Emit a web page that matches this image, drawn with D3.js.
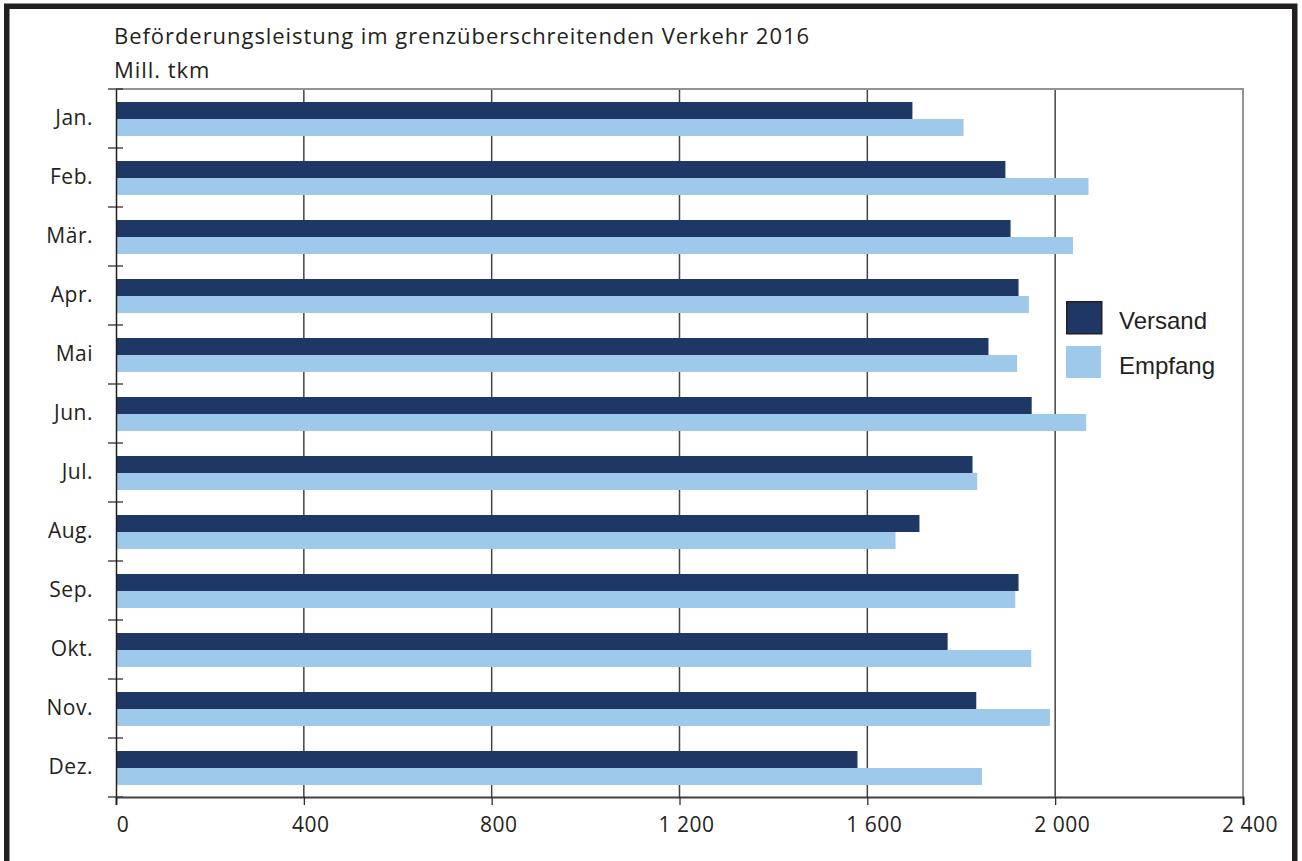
<!DOCTYPE html>
<html>
<head>
<meta charset="utf-8">
<script src="https://cdn.jsdelivr.net/npm/d3@7"></script>
<style>
  body { margin: 0; background: #fff; }
</style>
</head>
<body>
<script>
const canvWidth = 1302, canvHeight = 861;
const margin = {top: 89, right: 59, bottom: 64, left: 116};

const months = ["Jan.", "Feb.", "Mär.", "Apr.", "Mai", "Jun.", "Jul.", "Aug.", "Sep.", "Okt.", "Nov.", "Dez."];
const versand = [1696, 1894, 1905, 1922, 1858, 1950, 1824, 1711, 1922, 1771, 1832, 1579];
const empfang = [1805, 2071, 2038, 1944, 1919, 2066, 1834, 1660, 1915, 1949, 1989, 1844];
const xTicks = [0, 400, 800, 1200, 1600, 2000, 2400];
const seriesNames = ["Versand", "Empfang"];
const colors = ["#1e3764", "#9ec9ea"];

const labelFont = "'Open Sans', sans-serif";

const svg = d3.select("body").append("svg")
    .attr("width", canvWidth)
    .attr("height", canvHeight);

// outer frame
svg.append("rect")
    .attr("x", 6.75).attr("y", 6.25)
    .attr("width", 1288).attr("height", 900)
    .attr("fill", "none")
    .attr("stroke", "#231f20")
    .attr("stroke-width", 5.5);

const width = canvWidth - margin.left - margin.right;
const height = canvHeight - margin.top - margin.bottom;

const g = svg.append("g")
    .attr("transform", `translate(${margin.left},${margin.top})`);

const xScale = d3.scaleLinear().domain([0, 2400]).range([0, width]);
const yScale = d3.scaleBand().domain(months).range([0, height]).paddingInner(0).paddingOuter(0);
const inner = d3.scaleBand().domain(seriesNames)
    .range([13, yScale.bandwidth() - 12]);

// title
svg.append("text")
    .attr("x", 114).attr("y", 44)
    .attr("font-family", labelFont)
    .attr("font-size", "22px")
    .attr("letter-spacing", "0.95px")
    .attr("fill", "#231f20")
    .text("Beförderungsleistung im grenzüberschreitenden Verkehr 2016");
svg.append("text")
    .attr("x", 114).attr("y", 78)
    .attr("font-family", labelFont)
    .attr("font-size", "22px")
    .attr("letter-spacing", "0.95px")
    .attr("fill", "#231f20")
    .text("Mill. tkm");

// gridlines
g.selectAll("line.grid")
    .data(xTicks.slice(1, -1))
    .enter().append("line")
    .attr("class", "grid")
    .attr("x1", d => xScale(d)).attr("x2", d => xScale(d))
    .attr("y1", 0).attr("y2", height)
    .attr("stroke", "#444")
    .attr("stroke-width", 1.5);

// plot border top / right
g.append("path")
    .attr("d", `M0,0H${width}V${height}`)
    .attr("fill", "none")
    .attr("stroke", "#939393")
    .attr("stroke-width", 2);

// bars
const rows = months.map((m, i) => ({month: m, values: [versand[i], empfang[i]]}));
const rowG = g.selectAll("g.row")
    .data(rows)
    .enter().append("g")
    .attr("class", "row")
    .attr("transform", d => `translate(0,${yScale(d.month)})`);

rowG.selectAll("rect")
    .data(d => d.values.map((v, k) => ({key: seriesNames[k], value: v, k: k})))
    .enter().append("rect")
    .attr("x", 0)
    .attr("y", d => inner(d.key))
    .attr("width", d => xScale(d.value))
    .attr("height", inner.bandwidth())
    .attr("fill", d => colors[d.k]);

// y axis
const yAxis = d3.axisLeft(yScale).tickSize(0).tickPadding(23);
const yG = g.append("g").call(yAxis);
yG.select(".domain").attr("stroke", "#231f20").attr("stroke-width", 1.5);
yG.selectAll("text")
    .attr("font-family", labelFont)
    .attr("font-size", "21px")
    .attr("letter-spacing", "0.5px")
    .attr("fill", "#231f20");
// band boundary ticks on the left axis
const boundaries = months.map(m => yScale(m)).concat([height]);
g.selectAll("line.ytick")
    .data(boundaries)
    .enter().append("line")
    .attr("class", "ytick")
    .attr("x1", -8).attr("x2", 7)
    .attr("y1", d => d).attr("y2", d => d)
    .attr("stroke", "#231f20")
    .attr("stroke-width", 1.2);

// x axis
const xAxis = d3.axisBottom(xScale).tickValues(xTicks).tickSize(8).tickPadding(12)
    .tickFormat(d => d3.format(",")(d).replace(",", " "));
const xG = g.append("g")
    .attr("transform", `translate(0,${height})`)
    .call(xAxis);
xG.select(".domain").attr("stroke", "#404040").attr("stroke-width", 2);
xG.selectAll(".tick line").attr("stroke", "#231f20").attr("stroke-width", 1.2);
xG.selectAll("text")
    .attr("font-family", labelFont)
    .attr("font-size", "21px")
    .attr("letter-spacing", "0.5px")
    .attr("fill", "#231f20")
    .attr("dx", "6.5px");

// legend
const legend = svg.append("g").attr("transform", "translate(1066,301)");
const legRows = legend.selectAll("g")
    .data(seriesNames)
    .enter().append("g")
    .attr("transform", (d, i) => `translate(0,${i * 45})`);
legRows.append("rect")
    .attr("x", (d, i) => i === 0 ? 0.75 : 0)
    .attr("y", (d, i) => i === 0 ? 0.75 : 0)
    .attr("width", 35)
    .attr("height", 32)
    .attr("fill", (d, i) => colors[i])
    .attr("stroke", (d, i) => i === 0 ? "#231f20" : "none")
    .attr("stroke-width", 1.5);
legRows.append("text")
    .attr("x", 53).attr("y", 28)
    .attr("font-family", "'Liberation Sans', Arial, sans-serif")
    .attr("font-size", "24px")
    .attr("fill", "#231f20")
    .text(d => d);
</script>
</body>
</html>
